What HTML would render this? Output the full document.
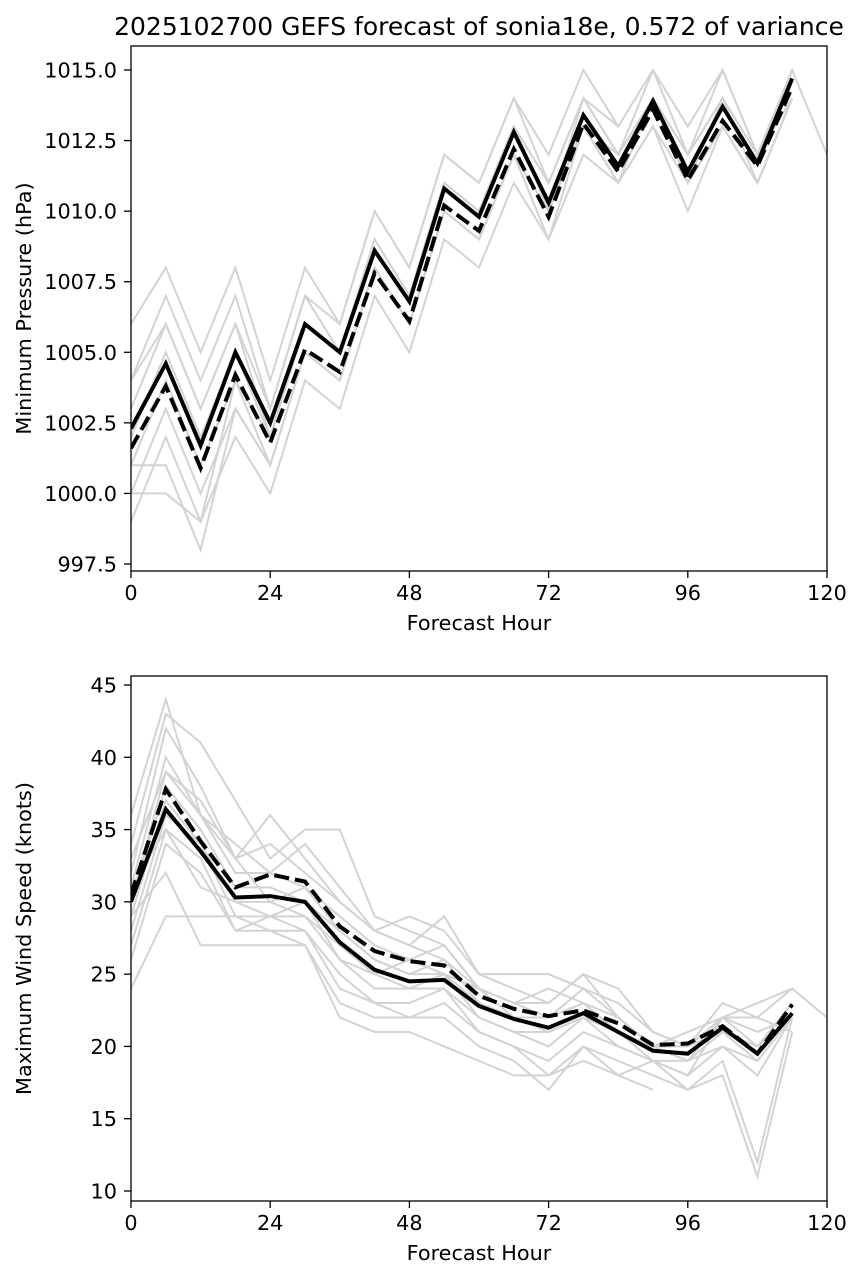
<!DOCTYPE html>
<html><head><meta charset="utf-8"><style>
body{margin:0;background:#fff;font-family:"DejaVu Sans","Liberation Sans",sans-serif}
svg text{font-family:"DejaVu Sans","Liberation Sans",sans-serif}
</style></head><body>
<svg id="chart" width="863" height="1279" xmlns="http://www.w3.org/2000/svg"></svg>
<script>
const hours=[0,6,12,18,24,30,36,42,48,54,60,66,72,78,84,90,96,102,108,114];
const pMean=[1002.3,1004.6,1001.7,1005.0,1002.5,1006.0,1005.0,1008.6,1006.8,1010.8,1009.8,1012.8,1010.3,1013.4,1011.6,1013.9,1011.4,1013.7,1011.7,1014.7];
const pDash=[1001.6,1003.8,1000.9,1004.2,1001.8,1005.1,1004.3,1007.8,1006.1,1010.2,1009.3,1012.2,1009.8,1013.1,1011.4,1013.6,1011.1,1013.2,1011.6,1014.4];
const pMembers=[
[1006,1008,1005,1008,1004,1008,1006,1010,1008,1012,1011,1014,1012,1015,1013,1015,1013,1015,1012,1015,1012],
[1004,1007,1004,1007,1003,1007,1006,1010,1008,1012,1011,1014,1011,1014,1012,1015,1012,1015,1012,1015],
[1003,1006,1003,1006,1003,1007,1005,1009,1007,1011,1010,1013,1011,1014,1012,1014,1012,1014,1012,1015],
[1002,1005,1002,1005,1002,1006,1005,1009,1007,1011,1010,1013,1010,1014,1012,1014,1011,1014,1012,1015],
[1001,1004,1001,1004,1001,1005,1004,1008,1006,1010,1009,1012,1010,1013,1011,1014,1011,1013,1011,1014],
[1000,1003,1000,1003,1001,1005,1004,1008,1006,1010,1009,1012,1010,1013,1011,1013,1011,1013,1011,1014],
[999,1002,999,1002,1000,1004,1003,1007,1005,1009,1008,1011,1009,1012,1011,1013,1010,1013,1011,1014],
[1001,1001,998,1003,1001,1005,1004,1008,1006,1010,1009,1012,1009,1013,1011,1014,1011,1014,1011,1014],
[1000,1000,999,1004,1002,1006,1005,1009,1007,1011,1010,1013,1010,1013,1012,1014,1012,1014,1012,1014],
[1004,1006,1003,1006,1002,1006,1005,1009,1007,1011,1010,1013,1011,1014,1013]
];
const wMean=[30,36.4,33.5,30.3,30.4,30.0,27.2,25.3,24.5,24.6,22.8,21.9,21.3,22.3,21.0,19.7,19.5,21.3,19.5,22.3];
const wDash=[30.5,37.8,34.2,31.0,31.9,31.4,28.3,26.6,25.9,25.6,23.5,22.6,22.1,22.5,21.6,20.1,20.2,21.4,19.5,22.9];
const wMembers=[
[36,44,36,33,36,33,30,28,27,29,25,25,25,24,23,21,20,22,23,24],
[34,43,41,37,33,35,35,29,28,27,24,23,23,25,24,21,20,23,22,24,22],
[32,42,38,33,34,32,30,28,29,28,25,24,23,25,22,20,19,22,21,22],
[31,40,36,32,32,31,29,27,26,27,24,23,22,24,22,20,20,21,20,23],
[30,38,35,31,31,30,28,26,25,26,23,22,22,23,21,20,19,21,19,22],
[29,37,34,30,30,29,27,25,24,25,22,21,21,22,21,19,19,20,19,22],
[28,36,34,29,29,30,26,24,24,24,22,21,20,22,20,19,18,20,18,22],
[27,35,33,28,29,28,25,23,23,24,21,20,19,21,20,19,17,19,12,22],
[26,34,32,28,28,28,24,23,22,23,21,20,18,20,19,18,17,18,11,21],
[24,29,29,29,28,27,23,22,22,22,20,19,17,20,18,17],
[29,32,27,27,27,27,22,21,21,20,19,18,18,19,18,19,18,22],
[33,39,36,34,32,34,31,28,27,26,24,23,24,23,22,20,21,22,22,21],
[31,35,31,30,29,29,26,25,26,25,23,22,21,22,21,20,20,21,20,22],
[30,39,37,33,30,31,28,26,25,25,24,22,22,23,21,20,20,22,20,23]
];
const xTicks=[0,24,48,72,96,120];
const pTicks=[997.5,1000.0,1002.5,1005.0,1007.5,1010.0,1012.5,1015.0];
const wTicks=[10,15,20,25,30,35,40,45];

const NS="http://www.w3.org/2000/svg";
const svg=document.getElementById('chart');
function el(t,a,p){const e=document.createElementNS(NS,t);for(const k in a)e.setAttribute(k,a[k]);(p||svg).appendChild(e);return e;}
const FS='20.8px';
function panel(name,top,bot,ymin,ymax,yTicks,yFmt,members,mean,dash,ylabel,title){
  const L=131,R=827;
  const g=el('g',{});
  
  
  const cp=name+'-clip';
  const d=el('defs',{},g);const c=el('clipPath',{id:cp},d);el('rect',{x:L,y:top,width:R-L,height:bot-top},c);
  const xs=h=>L+(h/120)*(R-L);
  const ys=v=>bot-(v-ymin)/(ymax-ymin)*(bot-top);
  const pts=arr=>arr.map((v,i)=>xs(i*6)+','+ys(v)).join(' ');
  const lg=el('g',{'clip-path':'url(#'+cp+')'},g);
  members.forEach(m=>{const l=el('polyline',{points:pts(m),fill:'none',stroke:'#d3d3d3','stroke-width':2},lg);
    
    });
  const s=el('polyline',{points:pts(mean),fill:'none',stroke:'#000','stroke-width':4,'stroke-linejoin':'miter'},lg);
  
  
  const ds=el('polyline',{points:pts(dash),fill:'none',stroke:'#000','stroke-width':4,'stroke-dasharray':'15,6'},lg);
  
  
  el('rect',{x:L,y:top,width:R-L,height:bot-top,fill:'none',stroke:'#000','stroke-width':1.3},g);
  xTicks.forEach(t=>{const x=xs(t);el('line',{x1:x,x2:x,y1:bot,y2:bot+7,stroke:'#000','stroke-width':1.3},g);
    const tx=el('text',{x:x,y:bot+29,'text-anchor':'middle','font-size':FS},g);tx.textContent=t;
    
    });
  yTicks.forEach(t=>{const y=ys(t);el('line',{x1:L,x2:L-7,y1:y,y2:y,stroke:'#000','stroke-width':1.3},g);
    const tx=el('text',{x:L-14,y:y+7.5,'text-anchor':'end','font-size':FS},g);tx.textContent=yFmt(t);
    
    });
  const xl=el('text',{x:(L+R)/2,y:bot+59,'text-anchor':'middle','font-size':FS},g);xl.textContent='Forecast Hour';
  
  
  const yl=el('text',{x:0,y:0,transform:`translate(31,${(top+bot)/2}) rotate(-90)`,'text-anchor':'middle','font-size':FS},g);yl.textContent=ylabel;
  
  
  if(title){const tt=el('text',{x:(L+R)/2+0,y:top-11,'text-anchor':'middle','font-size':'25px'},g);tt.textContent=title;
    
    }
}
const pPer=(564-70)/17.5;
panel('pressure-panel',46,571,997.5-(571-564)/pPer,1015+(70-46)/pPer,pTicks,v=>v.toFixed(1),pMembers,pMean,pDash,'Minimum Pressure (hPa)','2025102700 GEFS forecast of sonia18e, 0.572 of variance');
const wPer=(1191-685)/35;
panel('wind-panel',676,1201,10-(1201-1191)/wPer,45+(685-676)/wPer,wTicks,v=>String(v),wMembers,wMean,wDash,'Maximum Wind Speed (knots)',null);
</script>
</body></html>
